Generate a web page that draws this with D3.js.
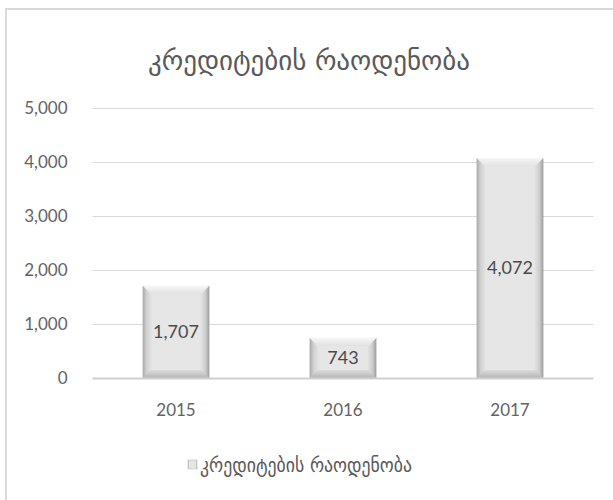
<!DOCTYPE html>
<html><head><meta charset="utf-8">
<script src="https://cdn.jsdelivr.net/npm/d3@7"></script>
<style>
html,body{margin:0;padding:0;background:#fff;}
svg{display:block;}
</style></head>
<body>
<svg id="c" width="613" height="500"></svg>
<script>
const title = "კრედიტების რაოდენობა";
const seriesName = "კრედიტების რაოდენობა";
const categories = ["2015", "2016", "2017"];
const values = [1707, 743, 4072];
const yTicks = [0, 1000, 2000, 3000, 4000, 5000];

const svg = d3.select("#c");
const W = 613, H = 500;
const m = {left: 92.5, right: 19.5, top: 108, bottom: 122};

// chart frame
svg.append("rect").attr("x", 6).attr("y", 9).attr("width", 640).attr("height", 540)
  .attr("fill", "#fff").attr("stroke", "#d9d9d9").attr("stroke-width", 2);

const defs = svg.append("defs");
const gH = defs.append("linearGradient").attr("id", "gh").attr("x1", 0).attr("x2", 1).attr("y1", 0).attr("y2", 0);
[[0, "#a9a9a9"], [0.06, "#d0d0d0"], [0.14, "#e6e6e6"], [0.86, "#e6e6e6"], [0.94, "#cdcdcd"], [1, "#9c9c9c"]]
  .forEach(([o, c]) => gH.append("stop").attr("offset", o).attr("stop-color", c));
const gT = defs.append("linearGradient").attr("id", "gt").attr("x1", 0).attr("x2", 0).attr("y1", 0).attr("y2", 1);
[[0, "#f7f7f7"], [1, "#e2e2e2"]].forEach(([o, c]) => gT.append("stop").attr("offset", o).attr("stop-color", c));
const gB = defs.append("linearGradient").attr("id", "gb").attr("x1", 0).attr("x2", 0).attr("y1", 0).attr("y2", 1);
[[0, "#dcdcdc"], [1, "#b5b5b5"]].forEach(([o, c]) => gB.append("stop").attr("offset", o).attr("stop-color", c));

const x = d3.scaleBand().domain(categories).range([m.left, W - m.right]).paddingInner(0.6).paddingOuter(0.3);
const y = d3.scaleLinear().domain([0, 5000]).range([H - m.bottom, m.top]);

// gridlines
svg.append("g").selectAll("line").data(yTicks.filter(d => d > 0)).join("line")
  .attr("x1", m.left).attr("x2", W - m.right)
  .attr("y1", d => Math.round(y(d)) + 0.5).attr("y2", d => Math.round(y(d)) + 0.5)
  .attr("stroke", "#d9d9d9").attr("stroke-width", 1);

// y labels
const font = "Lato, 'Open Sans', sans-serif";
const yAxis = d3.axisLeft(y).tickValues(yTicks).tickSize(0).tickPadding(0).tickFormat(d3.format(","));
const ya = svg.append("g").attr("transform", `translate(${m.left - 25},0)`).call(yAxis);
ya.select(".domain").remove();
ya.selectAll("text").attr("fill", "#636363").style("font-family", font).style("font-size", "17px").attr("dy", "0.35em");

// bars
const bars = svg.append("g").selectAll("g").data(values).join("g");
bars.each(function(v, i) {
  const g = d3.select(this);
  const x0 = x(categories[i]), bw = x.bandwidth();
  const yt = y(v), yb = y(0);
  const bv = Math.min(8, (yb - yt) / 4);
  g.append("rect").attr("x", x0).attr("y", yt).attr("width", bw).attr("height", yb - yt).attr("fill", "url(#gh)");
  g.append("path").attr("d", `M${x0},${yt}L${x0 + bw},${yt}L${x0 + bw - bv},${yt + bv}L${x0 + bv},${yt + bv}Z`).attr("fill", "url(#gt)");
  g.append("path").attr("d", `M${x0},${yb}L${x0 + bw},${yb}L${x0 + bw - bv},${yb - bv}L${x0 + bv},${yb - bv}Z`).attr("fill", "url(#gb)");
  g.append("text").attr("x", x0 + bw / 2).attr("y", (yt + yb) / 2).attr("dy", "0.35em")
    .attr("text-anchor", "middle").attr("fill", "#4a4a4a")
    .style("font-family", font).style("font-size", "18px").text(d3.format(",")(v));
});

// baseline
svg.append("line").attr("x1", m.left).attr("x2", W - m.right).attr("y1", y(0) + 0.5).attr("y2", y(0) + 0.5)
  .attr("stroke", "#d0d0d0").attr("stroke-width", 2);

// x labels
const xAxis = d3.axisBottom(x).tickSize(0).tickPadding(0);
const xa = svg.append("g").attr("transform", `translate(0,${y(0) + 38})`).call(xAxis);
xa.select(".domain").remove();
xa.selectAll("text").attr("fill", "#636363").style("font-family", font).style("font-size", "17px").attr("dy", "0");

// title
svg.append("text").attr("x", 309).attr("y", 70).attr("text-anchor", "middle")
  .attr("fill", "#595959").style("font-family", "'DejaVu Sans', serif").style("font-size", "28px")
  .attr("textLength", 322).attr("lengthAdjust", "spacingAndGlyphs").text(title);

// legend
const lg = svg.append("g");
lg.append("rect").attr("x", 188).attr("y", 460).attr("width", 9).attr("height", 9).attr("fill", "url(#gh)").attr("stroke", "#b0b0b0").attr("stroke-width", 0.5);
lg.append("text").attr("x", 200).attr("y", 472).attr("fill", "#595959")
  .style("font-family", "'DejaVu Sans', serif").style("font-size", "19px")
  .attr("textLength", 212).attr("lengthAdjust", "spacingAndGlyphs").text(seriesName);
</script>
</body></html>
